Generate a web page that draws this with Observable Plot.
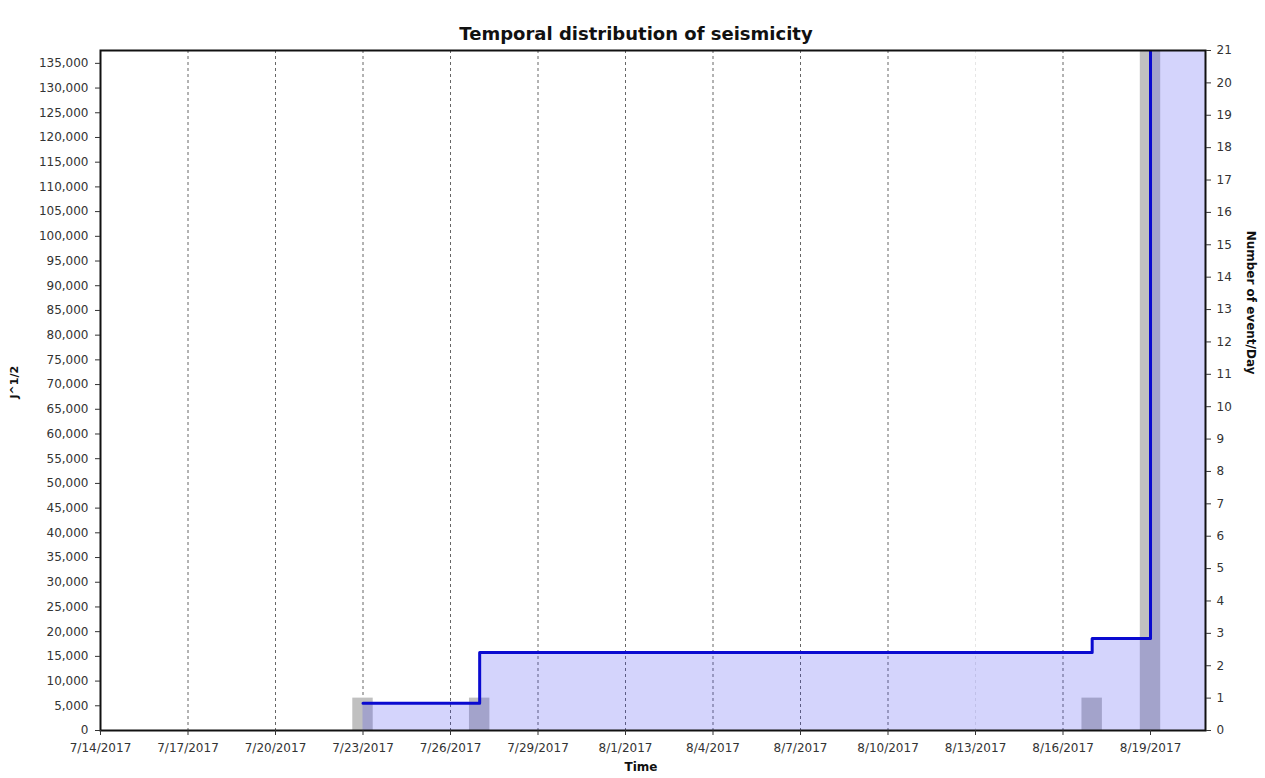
<!DOCTYPE html>
<html>
<head>
<meta charset="utf-8">
<script src="https://cdn.jsdelivr.net/npm/d3@7"></script>
<script src="https://cdn.jsdelivr.net/npm/@observablehq/plot@0.6"></script>
<style>
  body { margin: 0; background: #fff; }
  svg { display: block; }
</style>
</head>
<body>
<div id="chart"></div>
<script>
// ---- data ----
const title = "Temporal distribution of seismicity";
const eventDays = ["2017-07-23", "2017-07-27", "2017-08-17", "2017-08-19"];
const eventsPerDay = [1, 1, 1, 21];
const cumulativeJ = [5500, 15800, 18600, 160000];
const xTickDates = ["2017-07-14", "2017-07-17", "2017-07-20", "2017-07-23", "2017-07-26",
  "2017-07-29", "2017-08-01", "2017-08-04", "2017-08-07", "2017-08-10",
  "2017-08-13", "2017-08-16", "2017-08-19"];
const faintGridDates = ["2017-08-13"];
const leftTicks = d3.range(0, 135001, 5000);
const rightTicks = d3.range(0, 22, 1);
const xStart = "2017-07-14T00:00Z";
const xEnd = "2017-08-20T21:15Z";
const yMaxLeft = 137600;
const yMaxRight = 21;

// ---- build ----
const k = yMaxLeft / yMaxRight;
const DAY = 86400000;
const parse = s => new Date(s.length === 10 ? s + "T00:00Z" : s);
const x0 = parse(xStart), x1 = parse(xEnd);
const bars = eventDays.map((d, i) => ({
  a: new Date(+parse(d) - 0.35 * DAY),
  b: new Date(+parse(d) + 0.35 * DAY),
  v: eventsPerDay[i] * k
}));
const cum = eventDays.map((d, i) => ({t: parse(d), v: cumulativeJ[i]}));
cum.push({t: x1, v: cumulativeJ[cumulativeJ.length - 1]});
const xTicks = xTickDates.map(parse);
const darkGrid = xTicks.filter((d, i) => i > 0 && !faintGridDates.includes(xTickDates[i]));
const faintGrid = faintGridDates.map(parse);
const fmtDate = d3.utcFormat("%-m/%-d/%Y");
const fmtNum = d3.format(",");

const font = "'DejaVu Sans', Verdana, sans-serif";

const chart = Plot.plot({
  width: 1265,
  height: 778,
  marginTop: 50,
  marginBottom: 48,
  marginLeft: 100,
  marginRight: 60,
  style: {fontFamily: font, fontSize: "12px", color: "#333", background: "#fff"},
  x: {type: "utc", domain: [x0, x1]},
  y: {domain: [0, yMaxLeft]},
  marks: [
    Plot.ruleX(darkGrid, {stroke: "#666", strokeDasharray: "3,3", strokeWidth: 1}),
    Plot.ruleX(faintGrid, {stroke: "#e6e6e6", strokeDasharray: "3,3", strokeWidth: 1}),
    Plot.rectY(bars, {x1: "a", x2: "b", y1: 0, y2: "v", fill: "#c0c0c0", clip: true}),
    Plot.areaY(cum, {x: "t", y: "v", curve: "step-after", fill: "rgb(59,59,241)", fillOpacity: 0.22, clip: true}),
    Plot.lineY(cum, {x: "t", y: "v", curve: "step-after", stroke: "#0a0ad0", strokeWidth: 3, clip: true}),
    Plot.frame({stroke: "#111", strokeWidth: 2}),
    Plot.axisX(xTicks, {tickFormat: fmtDate, tickSize: 5, tickPadding: 8, label: null, fontSize: 12}),
    Plot.axisY(leftTicks, {anchor: "left", tickFormat: fmtNum, tickSize: 5, tickPadding: 7, label: null, fontSize: 12}),
    Plot.axisY(rightTicks.map(v => v * k), {anchor: "right", tickFormat: v => Math.round(v / k), tickSize: 5, tickPadding: 6, label: null, fontSize: 12}),
    Plot.text([title], {frameAnchor: "top", dy: -23, dx: -17, text: d => d, fontSize: 18, fontWeight: "bold", fill: "#111"}),
    Plot.text(["Time"], {frameAnchor: "bottom", dy: 40, dx: -12, text: d => d, fontSize: 12, fontWeight: "bold", fill: "#111"}),
    Plot.text(["J^1/2"], {frameAnchor: "left", dx: -86, dy: 8, rotate: -90, text: d => d, fontSize: 11, fontWeight: "bold", fill: "#111"}),
    Plot.text(["Number of event/Day"], {frameAnchor: "right", dx: 45, dy: -16, rotate: 90, text: d => d, fontSize: 12, fontWeight: "bold", fill: "#111"})
  ]
});
document.getElementById("chart").appendChild(chart);
</script>
</body>
</html>
